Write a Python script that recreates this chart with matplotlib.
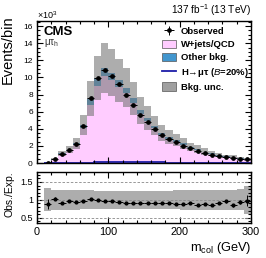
import numpy as np
import matplotlib
matplotlib.use("Agg")
import matplotlib.pyplot as plt
from matplotlib.ticker import MultipleLocator, NullFormatter
from matplotlib.patches import Patch
from matplotlib.lines import Line2D

plt.rcParams['font.family'] = ['Liberation Sans', 'DejaVu Sans']
plt.rcParams['mathtext.fontset'] = 'custom'
plt.rcParams['mathtext.rm'] = 'Liberation Sans'
plt.rcParams['mathtext.it'] = 'Liberation Sans:italic'
plt.rcParams['mathtext.bf'] = 'Liberation Sans:bold'

# m_col bins (GeV), values in units of 10^3 events
bin_edges = np.arange(10, 301, 10)
observed = [0.05, 0.45, 1.05, 1.5, 2.2, 4.35, 7.6, 9.95, 10.9, 10.15, 9.2, 7.9, 6.8, 5.6, 4.8,
            3.97, 3.27, 2.8, 2.4, 2.0, 1.7, 1.4, 1.17, 0.97, 0.82, 0.74, 0.62, 0.5, 0.43]
obs_err = [0.008, 0.02, 0.03, 0.04, 0.05, 0.07, 0.09, 0.1, 0.1, 0.1, 0.1, 0.09, 0.08, 0.08, 0.07,
           0.06, 0.06, 0.05, 0.05, 0.05, 0.04, 0.04, 0.04, 0.04, 0.035, 0.035, 0.03, 0.03, 0.065]
wjets_qcd = [0.046, 0.397, 1.05, 1.44, 2.14, 4.04, 6.77, 9.0, 10.17, 9.72, 8.93, 8.13, 7.01, 5.70, 4.89,
             4.04, 3.29, 2.82, 2.51, 2.14, 1.74, 1.54, 1.25, 1.05, 0.84, 0.72, 0.68, 0.50, 0.41]
other_bkg = [0.01, 0.04, 0.09, 0.12, 0.18, 0.40, 0.75, 0.95, 0.95, 0.85, 0.75, 0.65, 0.55, 0.45, 0.38,
             0.32, 0.26, 0.22, 0.19, 0.16, 0.13, 0.11, 0.09, 0.08, 0.06, 0.05, 0.05, 0.04, 0.03]
signal = [0.0, 0.01, 0.01, 0.02, 0.03, 0.04, 0.05, 0.06, 0.07, 0.08, 0.09, 0.09, 0.09, 0.08, 0.07,
          0.07, 0.06, 0.05, 0.05, 0.04, 0.04, 0.03, 0.03, 0.02, 0.02, 0.02, 0.01, 0.01, 0.01]
bkg_unc = [0.32, 0.28, 0.28, 0.28, 0.28, 0.27, 0.27, 0.26, 0.26, 0.26, 0.26, 0.26, 0.26, 0.26, 0.26,
           0.26, 0.26, 0.26, 0.27, 0.28, 0.28, 0.28, 0.28, 0.28, 0.28, 0.28, 0.28, 0.29, 0.40]

pink = '#ffccff'
blue = '#4296ce'
gray = '#777777'

centers = 0.5 * (bin_edges[:-1] + bin_edges[1:])
wj = np.array(wjets_qcd)
oth = np.array(other_bkg)
total = wj + oth
unc = np.array(bkg_unc)
obs = np.array(observed)

fig = plt.figure(figsize=(2.66, 2.58), dpi=100)
ax = fig.add_axes([37/266, 1-163/258, 214/266, 142/258])
rax = fig.add_axes([37/266, 1-223/258, 214/266, 51/258])

# stack
ax.stairs(wj, bin_edges, baseline=0, fill=True, color=pink, lw=0)
ax.stairs(total, bin_edges, baseline=wj, fill=True, color=blue, lw=0)
ax.stairs(total*(1+unc), bin_edges, baseline=total*(1-unc), fill=True, color=gray, alpha=0.6, lw=0)
ax.stairs(signal, bin_edges, color='#1c1ca8', lw=1.3)
eb = ax.errorbar(centers, obs, xerr=5, yerr=obs_err, fmt='o', color='black', ms=2.4, lw=0.7, capsize=0)

ax.set_xlim(0, 300)
ax.set_ylim(0, 16.6)

# ratio
ratio = obs / total
rax.stairs(1+unc, bin_edges, baseline=1-unc, fill=True, color=gray, alpha=0.6, lw=0)
for yv in (0.5, 1.0, 1.5):
    rax.axhline(yv, color='#888888', ls=(0, (3, 2)), lw=0.6)
rax.errorbar(centers, ratio, xerr=5, yerr=np.array(obs_err)/total, fmt='o', color='black',
             ms=2.0, lw=0.7, capsize=0)
rax.set_xlim(0, 300)
rax.set_ylim(0.35, 1.78)

for a in (ax, rax):
    a.xaxis.set_major_locator(MultipleLocator(100))
    a.xaxis.set_minor_locator(MultipleLocator(20))
    a.tick_params(which='both', direction='in', top=True, right=True, width=0.8)
    a.tick_params(which='major', length=4)
    a.tick_params(which='minor', length=2)
    for s in a.spines.values():
        s.set_linewidth(1.0)
ax.yaxis.set_major_locator(MultipleLocator(2))
ax.yaxis.set_minor_locator(MultipleLocator(0.5))
ax.xaxis.set_major_formatter(NullFormatter())
ax.tick_params(axis='y', labelsize=6, pad=3)
rax.yaxis.set_major_locator(MultipleLocator(0.5))
rax.yaxis.set_minor_locator(MultipleLocator(0.1))
rax.set_yticks([0.5, 1, 1.5], ['0.5', '1', '1.5'])
rax.tick_params(axis='y', labelsize=6.5, pad=3)
rax.tick_params(axis='x', labelsize=7.8, pad=3)

# labels
fig.text(8/266, 1-15/258, 'Events/bin', rotation=90, ha='center', va='top', fontsize=10.5)
fig.text(10/266, 1-194.5/258, 'Obs./Exp.', rotation=90, ha='center', va='center', fontsize=7.5)
fig.text(251/266, 1-248/258, r'm$_\mathregular{col}$ (GeV)', ha='right', va='center', fontsize=9.2)
fig.text(37/266, 1-15/258, r'$\times$10$^\mathregular{3}$', ha='left', va='center', fontsize=6.5)
fig.text(251/266, 1-10/258, r'137 fb$^\mathregular{-1}$ (13 TeV)', ha='right', va='center', fontsize=7.3)
fig.text(43/266, 1-32/258, 'CMS', ha='left', va='center', fontsize=9.5, fontweight='bold')
fig.text(44/266, 1-43/258, r'μτ$_\mathregular{h}$', ha='left', va='center', fontsize=7, color='#333333')

handles = [
    eb,
    Patch(facecolor=pink, edgecolor='#555555', lw=0.5),
    Patch(facecolor=blue, edgecolor='#555555', lw=0.5),
    Line2D([], [], color='#1c1ca8', lw=1.3),
    Patch(facecolor='#a0a0a0', edgecolor='#555555', lw=0.5),
]
labels = ['Observed', 'W+jets/QCD', 'Other bkg.', r'H→μτ ($\mathit{B}$=20%)', 'Bkg. unc.']
leg = ax.legend(handles, labels, loc='upper left', bbox_to_anchor=(162/266, 1-26.5/258),
                bbox_transform=fig.transFigure, frameon=False, fontsize=6.8,
                handlelength=1.5, handleheight=1.0, handletextpad=0.5, labelspacing=0.38,
                borderpad=0, borderaxespad=0)
for t in leg.get_texts():
    t.set_fontweight('bold')

fig.savefig('out.png', dpi=100)
